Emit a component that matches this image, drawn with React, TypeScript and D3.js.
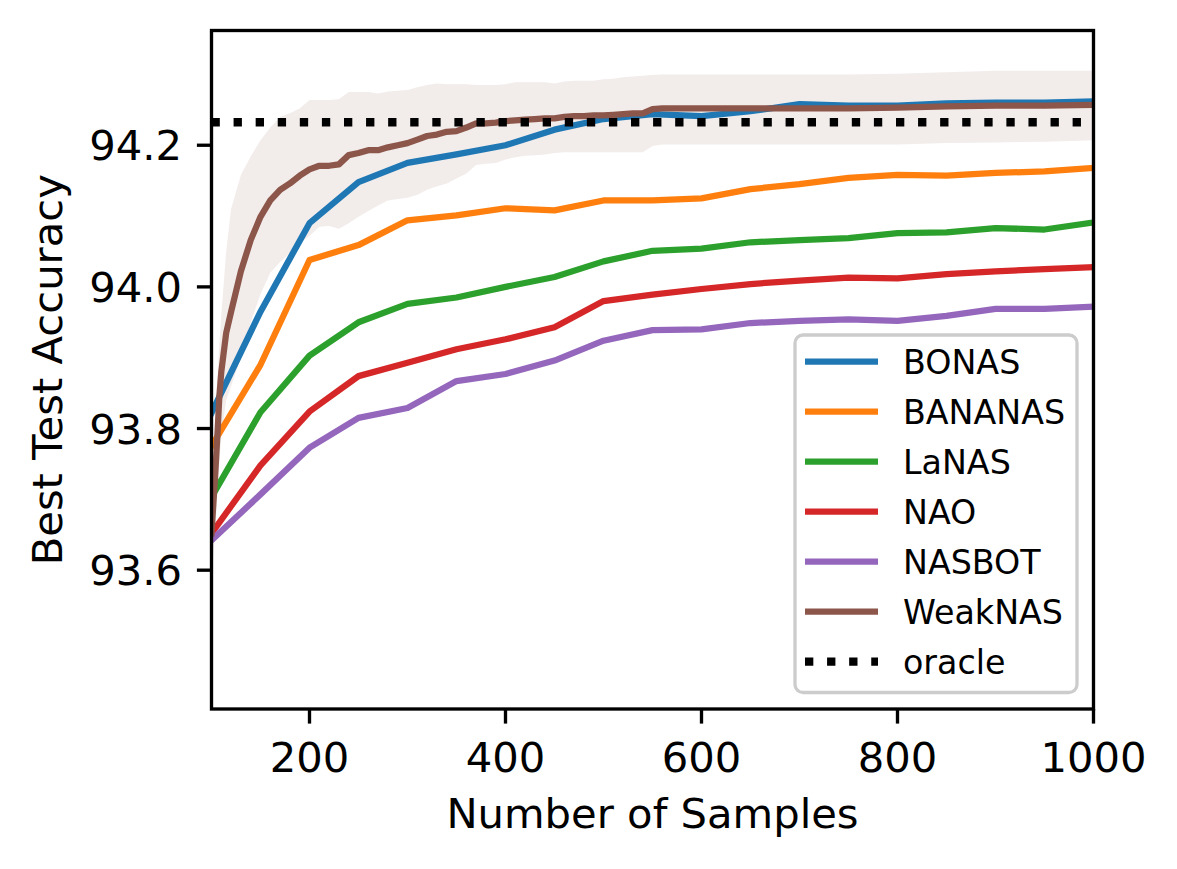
import React from "react";
import * as d3 from "d3";

const samples = [100, 150, 200, 250, 300, 350, 400, 450, 500, 550, 600, 650, 700, 750, 800, 850, 900, 950, 1000];
const bonas = [93.822, 93.965, 94.09, 94.148, 94.175, 94.187, 94.2, 94.222, 94.237, 94.244, 94.241, 94.248, 94.258, 94.256, 94.256, 94.259, 94.26, 94.26, 94.262];
const bananas = [93.775, 93.89, 94.038, 94.059, 94.094, 94.101, 94.111, 94.108, 94.122, 94.122, 94.125, 94.138, 94.145, 94.154, 94.158, 94.157, 94.161, 94.163, 94.168];
const lanas = [93.703, 93.823, 93.903, 93.95, 93.976, 93.985, 94.0, 94.014, 94.036, 94.051, 94.054, 94.063, 94.066, 94.069, 94.076, 94.077, 94.083, 94.081, 94.091];
const nao = [93.652, 93.748, 93.824, 93.874, 93.893, 93.912, 93.926, 93.943, 93.98, 93.989, 93.997, 94.004, 94.009, 94.013, 94.012, 94.018, 94.022, 94.025, 94.028];
const nasbot = [93.642, 93.707, 93.773, 93.815, 93.829, 93.867, 93.877, 93.896, 93.924, 93.939, 93.94, 93.949, 93.952, 93.954, 93.952, 93.959, 93.969, 93.969, 93.972];

const weakX = [
  100, 104, 106, 108, 110, 115, 120,
  130, 140, 150, 160, 170, 180, 190, 200,
  210, 220, 230, 240, 250, 260, 270, 280, 290, 300,
  310, 320, 330, 340, 350, 360, 370, 380, 390, 400,
  410, 420, 430, 440, 450, 460, 470, 480, 490, 500,
  510, 520, 530, 540, 550, 560, 570, 580, 590, 600,
  650, 700, 750, 800, 850, 900, 950, 1000,
];
const weakMean = [
  93.652, 93.74, 93.79, 93.845, 93.88, 93.935, 93.965,
  94.022, 94.066, 94.099, 94.122, 94.137, 94.146, 94.157, 94.166,
  94.171, 94.171, 94.173, 94.186, 94.189, 94.193, 94.193, 94.197, 94.2, 94.203,
  94.208, 94.213, 94.215, 94.219, 94.22, 94.225, 94.231, 94.231, 94.232, 94.234,
  94.235, 94.236, 94.237, 94.238, 94.238, 94.24, 94.241, 94.241, 94.242, 94.242,
  94.243, 94.244, 94.245, 94.245, 94.251, 94.252, 94.252, 94.252, 94.252, 94.252,
  94.252, 94.252, 94.252, 94.253, 94.255, 94.256, 94.256, 94.257,
];
const weakUpper = [
  93.7, 93.82, 93.87, 93.92, 93.96, 94.05, 94.11,
  94.158, 94.184, 94.207, 94.225, 94.24, 94.245, 94.252, 94.264,
  94.264, 94.264, 94.265, 94.275, 94.275, 94.275, 94.273, 94.276, 94.277, 94.278,
  94.282, 94.285, 94.287, 94.286, 94.286, 94.286, 94.285, 94.285, 94.285, 94.286,
  94.289, 94.289, 94.289, 94.289, 94.287, 94.29, 94.291, 94.291, 94.291, 94.293,
  94.294, 94.296, 94.297, 94.298, 94.299, 94.3, 94.3, 94.3, 94.3, 94.3,
  94.3, 94.3, 94.3, 94.301, 94.303, 94.305, 94.305, 94.305,
];
const weakLower = [
  93.58, 93.66, 93.71, 93.75, 93.79, 93.84, 93.86,
  93.9, 93.95, 93.99, 94.02, 94.035, 94.048, 94.062, 94.072,
  94.085, 94.086, 94.082, 94.09, 94.099, 94.107, 94.115, 94.122, 94.124, 94.126,
  94.13, 94.137, 94.142, 94.146, 94.153, 94.16, 94.172, 94.174, 94.175, 94.18,
  94.183, 94.185, 94.186, 94.187, 94.189, 94.19, 94.19, 94.19, 94.19, 94.19,
  94.19, 94.19, 94.19, 94.19, 94.199, 94.201, 94.201, 94.201, 94.201, 94.201,
  94.201, 94.201, 94.201, 94.201, 94.203, 94.204, 94.205, 94.207,
];
const oracleValue = 94.2325;

const seriesNames = ["BONAS", "BANANAS", "LaNAS", "NAO", "NASBOT", "WeakNAS"];
const seriesColors = ["#1f77b4", "#ff7f0e", "#2ca02c", "#d62728", "#9467bd", "#8c564b"];
const xTicks = [200, 400, 600, 800, 1000];
const yTicks = [93.6, 93.8, 94.0, 94.2];

const W = 1177;
const H = 869;
const L = 211.5, R = 1093.5, T = 30.5, B = 709;
const FONT = "DejaVu Sans, Verdana, sans-serif";

export default function App() {
  const x = d3.scaleLinear().domain([100, 1000]).range([L, R]);
  const y = d3.scaleLinear().domain([93.404, 94.362]).range([B, T]);

  const line = d3
    .line<[number, number]>()
    .x((d) => x(d[0]))
    .y((d) => y(d[1]));

  const area = d3
    .area<number>()
    .x((_, i) => x(weakX[i]))
    .y0((_, i) => y(weakLower[i]))
    .y1((_, i) => y(weakUpper[i]));

  const stdSeries = [bonas, bananas, lanas, nao, nasbot];
  const lw = 6.25;
  const tickLen = 14.6;
  const spineW = 3.33;

  const legendX = 795, legendY = 335, legendW = 282, legendH = 357.5;
  const rowY = (i: number) => 361.7 + i * 50;

  return (
    <svg
      width={W}
      height={H}
      viewBox={`0 0 ${W} ${H}`}
      style={{ position: "absolute", left: 0, top: 0, background: "#fff" }}
      fontFamily={FONT}
    >
      <defs>
        <clipPath id="plotclip">
          <rect x={L} y={T} width={R - L} height={B - T} />
        </clipPath>
      </defs>
      <rect x={0} y={0} width={W} height={H} fill="#fff" />
      <g clipPath="url(#plotclip)">
        <path d={area(weakMean) || ""} fill="#8c564b" fillOpacity={0.11} stroke="none" />
        {stdSeries.map((vals, si) => (
          <path
            key={si}
            d={line(samples.map((s, i) => [s, vals[i]] as [number, number])) || ""}
            fill="none"
            stroke={seriesColors[si]}
            strokeWidth={lw}
            strokeLinejoin="round"
            strokeLinecap="square"
          />
        ))}
        <path
          d={line(weakX.map((s, i) => [s, weakMean[i]] as [number, number])) || ""}
          fill="none"
          stroke={seriesColors[5]}
          strokeWidth={lw}
          strokeLinejoin="round"
          strokeLinecap="square"
        />
        <path
          d={line([[100, oracleValue], [1000, oracleValue]]) || ""}
          fill="none"
          stroke="#000"
          strokeWidth={8.33}
          strokeDasharray="8.33 13.75"
        />
      </g>

      {/* spines */}
      <rect x={L} y={T} width={R - L} height={B - T} fill="none" stroke="#000" strokeWidth={spineW} />

      {/* x ticks */}
      {xTicks.map((t) => (
        <g key={t}>
          <line x1={x(t)} x2={x(t)} y1={B} y2={B + tickLen} stroke="#000" strokeWidth={spineW} />
          <text x={x(t)} y={772} fontSize={41.7} textAnchor="middle" fill="#000">
            {t}
          </text>
        </g>
      ))}
      {/* y ticks */}
      {yTicks.map((t) => (
        <g key={t}>
          <line x1={L - tickLen} x2={L} y1={y(t)} y2={y(t)} stroke="#000" strokeWidth={spineW} />
          <text x={182} y={y(t)} dy="0.36em" fontSize={41.7} textAnchor="end" fill="#000">
            {t.toFixed(1)}
          </text>
        </g>
      ))}

      <text x={(L + R) / 2} y={828} fontSize={41.7} textAnchor="middle" fill="#000">
        Number of Samples
      </text>
      <text
        transform={`translate(62, ${(T + B) / 2}) rotate(-90)`}
        fontSize={41.7}
        textAnchor="middle"
        fill="#000"
      >
        Best Test Accuracy
      </text>

      {/* legend */}
      <rect
        x={legendX}
        y={legendY}
        width={legendW}
        height={legendH}
        rx={8}
        ry={8}
        fill="#fff"
        fillOpacity={0.8}
        stroke="#cccccc"
        strokeWidth={3.3}
      />
      {seriesNames.map((n, i) => (
        <g key={n}>
          <line x1={805} x2={878} y1={rowY(i)} y2={rowY(i)} stroke={seriesColors[i]} strokeWidth={lw} />
          <text x={903} y={rowY(i)} dy="0.36em" fontSize={33.3} fill="#000">
            {n}
          </text>
        </g>
      ))}
      <line
        x1={805}
        x2={878}
        y1={rowY(6)}
        y2={rowY(6)}
        stroke="#000"
        strokeWidth={8.33}
        strokeDasharray="8.33 13.75"
      />
      <text x={903} y={rowY(6)} dy="0.36em" fontSize={33.3} fill="#000">
        oracle
      </text>
    </svg>
  );
}
